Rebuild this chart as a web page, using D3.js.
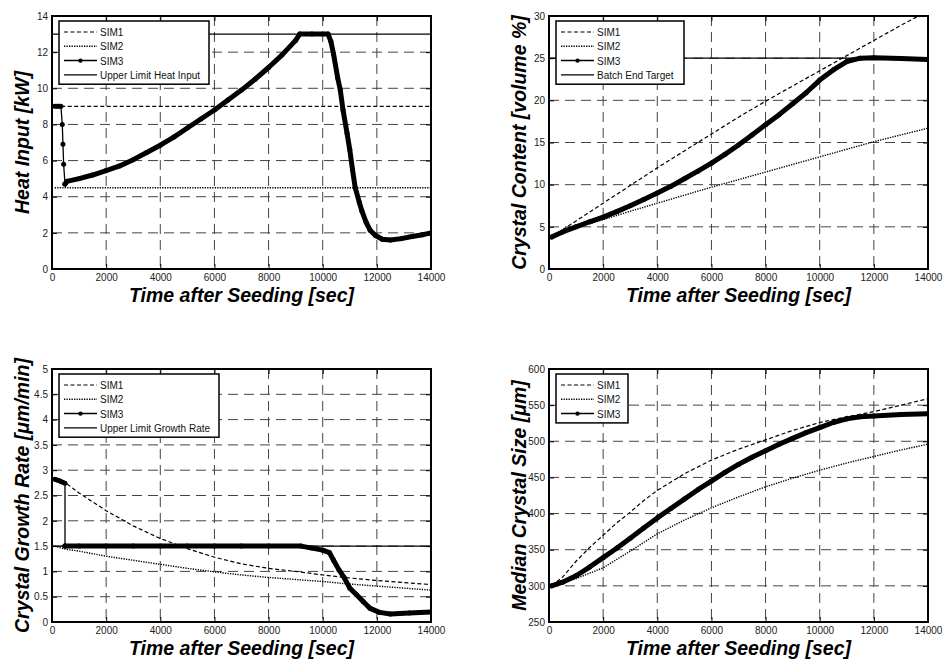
<!DOCTYPE html>
<html>
<head>
<meta charset="utf-8">
<script src="https://cdn.jsdelivr.net/npm/d3@7"></script>
<style>
body { margin: 0; background: #fff; }
text { font-family: "Liberation Sans", Arial, sans-serif; }
.tick text { fill: #222; font-size: 10px; }
.axtitle { font-size: 19.5px; font-weight: bold; font-style: italic; fill: #000; }
.legtext { font-size: 10px; fill: #111; }
</style>
</head>
<body>
<svg id="fig" width="943" height="659"></svg>
<script>
// time after seeding axis (s)
var timeTicks = [0, 2000, 4000, 6000, 8000, 10000, 12000, 14000];

// --- heat input [kW]
var heatSim1 = [[100, 9], [14000, 9]];
var heatSim2 = [[100, 4.5], [14000, 4.5]];
var heatLimit = [[0, 13], [14000, 13]];
var heatSim3Jump = [[100, 9], [160, 9], [220, 9], [280, 9], [330, 9], [380, 8], [405, 6.9], [430, 5.8], [480, 4.7]];
var heatSim3 = [[480, 4.7], [550, 4.85], [1000, 5.0], [1500, 5.2], [2000, 5.45], [2500, 5.7], [3000, 6.05],
  [3500, 6.45], [4000, 6.85], [4500, 7.3], [5000, 7.8], [5500, 8.3], [6000, 8.8], [6500, 9.35], [7000, 9.9],
  [7500, 10.5], [8000, 11.15], [8500, 11.85], [9000, 12.65], [9150, 13], [9600, 13], [10000, 13], [10200, 13],
  [10300, 12.6], [10400, 11.9], [10550, 10.6], [10650, 9.9], [10750, 8.8], [10900, 7.5], [11000, 6.6],
  [11100, 5.5], [11200, 4.5], [11350, 3.7], [11450, 3.2], [11600, 2.6], [11750, 2.15], [11950, 1.85],
  [12200, 1.65], [12500, 1.6], [12900, 1.68], [13300, 1.8], [13700, 1.9], [14000, 1.99]];

// --- crystal content [volume %]
var contSim1 = [[100, 3.8], [1000, 5.7], [2000, 7.8], [3000, 9.9], [4000, 12.0], [5000, 14.0], [6000, 16.0],
  [7000, 18.0], [8000, 19.9], [9000, 21.7], [10000, 23.5], [11000, 25.3], [12000, 27.1], [13000, 28.9], [14000, 30.6]];
var contSim2 = [[100, 3.8], [1000, 4.9], [2000, 5.85], [3000, 6.85], [4000, 7.8], [5000, 8.75], [6000, 9.7],
  [7000, 10.6], [8000, 11.5], [9000, 12.4], [10000, 13.3], [11000, 14.2], [12000, 15.1], [13000, 15.9], [14000, 16.7]];
var contLimit = [[0, 25], [14000, 25]];
var contSim3Jump = [];
var contSim3 = [[100, 3.8], [500, 4.4], [1000, 5.0], [1500, 5.6], [2000, 6.15], [2500, 6.8], [3000, 7.5],
  [3500, 8.25], [4000, 9.0], [4500, 9.8], [5000, 10.7], [5500, 11.6], [6000, 12.55], [6500, 13.6], [7000, 14.7],
  [7500, 15.9], [8000, 17.1], [8500, 18.3], [9000, 19.6], [9500, 20.9], [10000, 22.4], [10500, 23.6],
  [11000, 24.6], [11500, 25.0], [12000, 25.05], [13000, 24.95], [14000, 24.85]];

// --- crystal growth rate [um/min]
var growSim1 = [[100, 2.8], [500, 2.75], [1000, 2.55], [2000, 2.2], [3000, 1.9], [4000, 1.65], [5000, 1.45],
  [6000, 1.28], [7000, 1.15], [8000, 1.06], [9000, 1.0], [10000, 0.93], [11000, 0.87], [12000, 0.82],
  [13000, 0.78], [14000, 0.74]];
var growSim2 = [[100, 1.5], [500, 1.44], [1000, 1.4], [2000, 1.3], [3000, 1.22], [4000, 1.14], [5000, 1.06],
  [6000, 0.99], [7000, 0.93], [8000, 0.88], [9000, 0.84], [10000, 0.8], [11000, 0.75], [12000, 0.71],
  [13000, 0.67], [14000, 0.63]];
var growLimit = [[0, 1.5], [14000, 1.5]];
var growSim3Jump = [[100, 2.82], [160, 2.81], [220, 2.8], [280, 2.79], [340, 2.77], [400, 2.76], [480, 2.74], [480, 1.5]];
var growSim3 = [[480, 1.5], [1000, 1.5], [2000, 1.5], [3000, 1.5], [4000, 1.5], [5000, 1.5], [6000, 1.5],
  [7000, 1.5], [8000, 1.5], [9200, 1.5], [9600, 1.46], [10000, 1.42], [10250, 1.37], [10400, 1.22],
  [10600, 1.03], [10800, 0.87], [11000, 0.67], [11250, 0.54], [11500, 0.4], [11750, 0.27], [12100, 0.19],
  [12500, 0.16], [13200, 0.18], [14000, 0.2]];

// --- median crystal size [um]
var sizeSim1 = [[100, 300], [500, 312], [1000, 334], [1500, 353], [2000, 370], [2500, 387], [3000, 402],
  [3500, 418], [4000, 432], [5000, 455], [6000, 474], [7000, 489], [8000, 502], [9000, 515], [10000, 526],
  [11000, 534], [12000, 541], [13000, 550], [14000, 559]];
var sizeSim2 = [[100, 300], [1000, 310], [2000, 325], [3000, 348], [4000, 372], [5000, 391], [6000, 408],
  [7000, 423], [8000, 437], [9000, 449], [10000, 460], [11000, 470], [12000, 479], [13000, 488], [14000, 496]];
var sizeSim3Jump = [];
var sizeSim3 = [[100, 300], [500, 305], [1000, 314], [1500, 326], [2000, 339], [2500, 352], [3000, 366],
  [3500, 380], [4000, 394], [4500, 407], [5000, 420], [5500, 433], [6000, 445], [6500, 457], [7000, 468],
  [7500, 478], [8000, 487], [8500, 496], [9000, 504], [9500, 512], [10000, 519], [10500, 526], [11000, 531],
  [11500, 534], [12000, 535], [13000, 537], [14000, 538]];

var panels = [
  { left: 52, top: 16, yDomain: [0, 14], yStep: 2, ylabel: "Heat Input [kW]",
    sim1: heatSim1, sim2: heatSim2, sim3Jump: heatSim3Jump, sim3: heatSim3, limit: heatLimit,
    limitName: "Upper Limit Heat Input", legW: 150 },
  { left: 549, top: 16, yDomain: [0, 30], yStep: 5, ylabel: "Crystal Content [volume %]",
    sim1: contSim1, sim2: contSim2, sim3Jump: contSim3Jump, sim3: contSim3, limit: contLimit,
    limitName: "Batch End Target", legW: 128 },
  { left: 52, top: 369, yDomain: [0, 5], yStep: 0.5, ylabel: "Crystal Growth Rate [\u03bcm/min]",
    sim1: growSim1, sim2: growSim2, sim3Jump: growSim3Jump, sim3: growSim3, limit: growLimit,
    limitName: "Upper Limit Growth Rate", legW: 160 },
  { left: 549, top: 369, yDomain: [250, 600], yStep: 50, ylabel: "Median Crystal Size [\u03bcm]",
    sim1: sizeSim1, sim2: sizeSim2, sim3Jump: sizeSim3Jump, sim3: sizeSim3, limit: null,
    limitName: null, legW: 72 }
];

var W = 379, H = 253;
var svg = d3.select("#fig");

panels.forEach(function(p, i) {
  var g = svg.append("g").attr("transform", "translate(" + p.left + "," + p.top + ")");
  var x = d3.scaleLinear().domain([0, 14000]).range([0, W]);
  var y = d3.scaleLinear().domain(p.yDomain).range([H, 0]);
  var yTicks = d3.range(p.yDomain[0], p.yDomain[1] + p.yStep / 2, p.yStep);

  g.append("clipPath").attr("id", "clip" + i)
    .append("rect").attr("width", W).attr("height", H);

  // grid
  g.selectAll("line.gx").data(timeTicks.slice(1, -1)).enter().append("line")
    .attr("x1", x).attr("x2", x).attr("y1", 0).attr("y2", H)
    .attr("stroke", "#444").attr("stroke-dasharray", "10,6");
  g.selectAll("line.gy").data(yTicks.slice(1, -1)).enter().append("line")
    .attr("y1", y).attr("y2", y).attr("x1", 0).attr("x2", W)
    .attr("stroke", "#444").attr("stroke-dasharray", "10,6");

  // axes (ticks inside)
  g.append("g").attr("transform", "translate(0," + H + ")")
    .call(d3.axisBottom(x).tickValues(timeTicks).tickFormat(d3.format("d")).tickSizeInner(-5).tickSizeOuter(0).tickPadding(5))
    .call(function(a) { a.select(".domain").remove(); });
  g.append("g")
    .call(d3.axisLeft(y).tickValues(yTicks).tickFormat(d3.format("")).tickSizeInner(-5).tickSizeOuter(0).tickPadding(4))
    .call(function(a) { a.select(".domain").remove(); });
  g.append("g")
    .call(d3.axisTop(x).tickValues(timeTicks).tickFormat("").tickSizeInner(-5).tickSizeOuter(0))
    .call(function(a) { a.select(".domain").remove(); });
  g.append("g").attr("transform", "translate(" + W + ",0)")
    .call(d3.axisRight(y).tickValues(yTicks).tickFormat("").tickSizeInner(-5).tickSizeOuter(0))
    .call(function(a) { a.select(".domain").remove(); });

  var line = d3.line().x(function(d) { return x(d[0]); }).y(function(d) { return y(d[1]); });
  var plot = g.append("g").attr("clip-path", "url(#clip" + i + ")");

  if (p.limit) {
    plot.append("path").attr("d", line(p.limit)).attr("fill", "none")
      .attr("stroke", "#000").attr("stroke-width", 1.3);
  }
  plot.append("path").attr("d", line(p.sim1)).attr("fill", "none")
    .attr("stroke", "#000").attr("stroke-width", 1.2).attr("stroke-dasharray", "4,2.5");
  plot.append("path").attr("d", line(p.sim2)).attr("fill", "none")
    .attr("stroke", "#000").attr("stroke-width", 1.4).attr("stroke-dasharray", "1.3,1.2");

  // SIM3: thin jump part, thick main trace, markers at every point
  if (p.sim3Jump.length) {
    plot.append("path").attr("d", line(p.sim3Jump)).attr("fill", "none")
      .attr("stroke", "#000").attr("stroke-width", 1.3);
  }
  plot.append("path").attr("d", line(p.sim3)).attr("fill", "none")
    .attr("stroke", "#000").attr("stroke-width", 5).attr("stroke-linejoin", "round").attr("stroke-linecap", "round");
  plot.selectAll("circle").data(p.sim3Jump.concat(p.sim3)).enter().append("circle")
    .attr("cx", function(d) { return x(d[0]); }).attr("cy", function(d) { return y(d[1]); })
    .attr("r", 2.5).attr("fill", "#000");

  // frame
  g.append("rect").attr("width", W).attr("height", H).attr("fill", "none")
    .attr("stroke", "#000").attr("stroke-width", 2);

  // legend
  var entries = [
    { name: "SIM1", dash: "4,2.5", w: 1.2, mark: false },
    { name: "SIM2", dash: "1.3,1.2", w: 1.4, mark: false },
    { name: "SIM3", dash: null, w: 1.5, mark: true }
  ];
  if (p.limitName) entries.push({ name: p.limitName, dash: null, w: 1.3, mark: false });
  var leg = g.append("g").attr("transform", "translate(7,5)");
  leg.append("rect").attr("width", p.legW).attr("height", 9 + entries.length * 14.3 - 3)
    .attr("fill", "#fff").attr("stroke", "#000").attr("stroke-width", 1.5);
  var rows = leg.selectAll("g.row").data(entries).enter().append("g")
    .attr("transform", function(d, k) { return "translate(0," + (11 + k * 14.3) + ")"; });
  rows.append("line").attr("x1", 5).attr("x2", 38).attr("y1", 0).attr("y2", 0)
    .attr("stroke", "#000").attr("stroke-width", function(d) { return d.w; })
    .attr("stroke-dasharray", function(d) { return d.dash; });
  rows.filter(function(d) { return d.mark; }).append("circle")
    .attr("cx", 21.5).attr("cy", 0).attr("r", 2.2).attr("fill", "#000");
  rows.append("text").attr("class", "legtext").attr("x", 41).attr("y", 4).text(function(d) { return d.name; });

  // axis titles
  g.append("text").attr("class", "axtitle").attr("text-anchor", "middle")
    .attr("x", W / 2).attr("y", H + 33).text("Time after Seeding [sec]");
  g.append("text").attr("class", "axtitle").attr("text-anchor", "middle")
    .attr("transform", "translate(-23," + (H / 2) + ") rotate(-90)").text(p.ylabel);
});
</script>
</body>
</html>
